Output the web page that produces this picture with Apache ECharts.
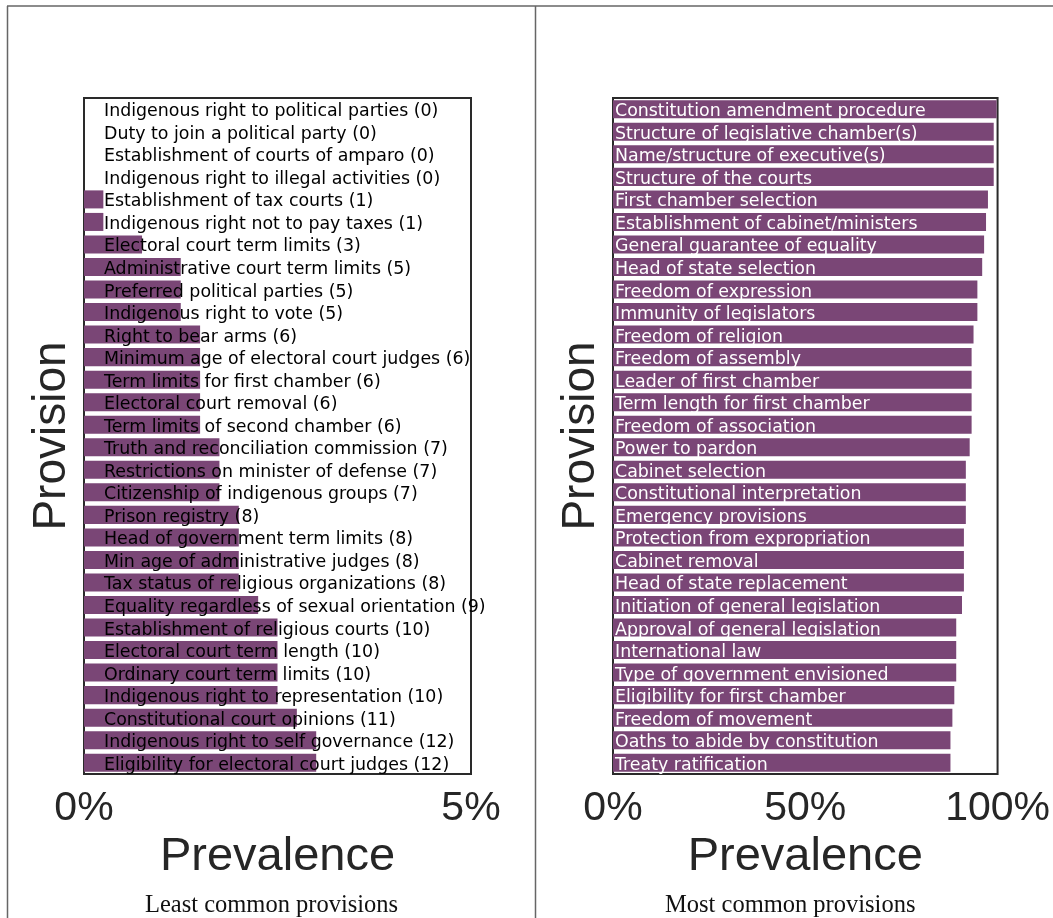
<!DOCTYPE html>
<html>
<head>
<meta charset="utf-8">
<script src="https://cdn.jsdelivr.net/npm/echarts@6/dist/echarts.min.js"></script>
<style>
  html, body { margin: 0; padding: 0; background: #fff; }
  #chart { width: 1053px; height: 918px; }
</style>
</head>
<body>
<div id="chart"></div>
<script>
// Least common provisions: name and number of constitutions (out of TOTAL)
const leastNames = [
  "Indigenous right to political parties",
  "Duty to join a political party",
  "Establishment of courts of amparo",
  "Indigenous right to illegal activities",
  "Establishment of tax courts",
  "Indigenous right not to pay taxes",
  "Electoral court term limits",
  "Administrative court term limits",
  "Preferred political parties",
  "Indigenous right to vote",
  "Right to bear arms",
  "Minimum age of electoral court judges",
  "Term limits for first chamber",
  "Electoral court removal",
  "Term limits of second chamber",
  "Truth and reconciliation commission",
  "Restrictions on minister of defense",
  "Citizenship of indigenous groups",
  "Prison registry",
  "Head of government term limits",
  "Min age of administrative judges",
  "Tax status of religious organizations",
  "Equality regardless of sexual orientation",
  "Establishment of religious courts",
  "Electoral court term length",
  "Ordinary court term limits",
  "Indigenous right to representation",
  "Constitutional court opinions",
  "Indigenous right to self governance",
  "Eligibility for electoral court judges"
];
const leastCounts = [0, 0, 0, 0, 1, 1, 3, 5, 5, 5, 6, 6, 6, 6, 6, 7, 7, 7, 8, 8, 8, 8, 9, 10, 10, 10, 10, 11, 12, 12];
const TOTAL = 400;            // constitutions in the corpus
const leastMaxCount = 20;     // 5% of TOTAL
const leastTicks = [0, 20];

// Most common provisions: name and prevalence in percent
const mostNames = [
  "Constitution amendment procedure",
  "Structure of legislative chamber(s)",
  "Name/structure of executive(s)",
  "Structure of the courts",
  "First chamber selection",
  "Establishment of cabinet/ministers",
  "General guarantee of equality",
  "Head of state selection",
  "Freedom of expression",
  "Immunity of legislators",
  "Freedom of religion",
  "Freedom of assembly",
  "Leader of first chamber",
  "Term length for first chamber",
  "Freedom of association",
  "Power to pardon",
  "Cabinet selection",
  "Constitutional interpretation",
  "Emergency provisions",
  "Protection from expropriation",
  "Cabinet removal",
  "Head of state replacement",
  "Initiation of general legislation",
  "Approval of general legislation",
  "International law",
  "Type of government envisioned",
  "Eligibility for first chamber",
  "Freedom of movement",
  "Oaths to abide by constitution",
  "Treaty ratification"
];
const mostPct = [99.75, 99.0, 99.0, 99.0, 97.5, 97.0, 96.5, 96.0, 94.75, 94.75,
                 93.75, 93.25, 93.25, 93.25, 93.25, 92.75, 91.75, 91.75, 91.75, 91.25,
                 91.25, 91.25, 90.75, 89.25, 89.25, 89.25, 88.75, 88.25, 87.75, 87.75];

const BAR = '#7a4676';
const INK = '#262626';
const SANS = '"Liberation Sans", Arial, sans-serif';
const LABEL_FONT = '"DejaVu Sans", sans-serif';
const SERIF = '"Liberation Serif", "DejaVu Serif", serif';

const leastCats = leastNames.map((n, i) => `${n} (${leastCounts[i]})`);

const chart = echarts.init(document.getElementById('chart'), null, { renderer: 'canvas' });

const valueAxisCommon = {
  type: 'value',
  axisLine: { show: false },
  axisTick: { show: false },
  splitLine: { show: false },
  name: 'Prevalence',
  nameLocation: 'middle',
  nameGap: 57,
  nameTextStyle: { fontSize: 47, color: INK, fontFamily: SANS },
  axisLabel: { fontSize: 41, color: INK, fontFamily: SANS, margin: 14 }
};

const catAxisCommon = {
  type: 'category',
  inverse: true,
  z: 10,
  axisLine: { show: false },
  axisTick: { show: false },
  splitLine: { show: false },
  name: 'Provision',
  nameLocation: 'middle',
  nameRotate: 90,
  nameGap: 9,
  nameTextStyle: { fontSize: 46, color: INK, fontFamily: SANS }
};

// provision names are written inside the plot, over the bars;
// a short top-aligned line box sits the text slightly below the row centre
const rowLabel = { inside: true, interval: 0, fontSize: 17.4, fontFamily: LABEL_FONT, verticalAlign: 'top', lineHeight: 5 };

chart.setOption({
  animation: false,
  backgroundColor: '#fff',
  grid: [
    { left: 84, top: 98, width: 387, height: 676, show: true, borderColor: '#2a2a2a', borderWidth: 2, backgroundColor: 'transparent', containLabel: false },
    { left: 613, top: 98, width: 387, height: 676, show: true, borderColor: '#2a2a2a', borderWidth: 2, backgroundColor: 'transparent', containLabel: false }
  ],
  xAxis: [
    Object.assign({}, valueAxisCommon, {
      gridIndex: 0, min: 0, max: leastMaxCount, interval: leastTicks[1] - leastTicks[0],
      axisLabel: Object.assign({}, valueAxisCommon.axisLabel, {
        formatter: v => (v / TOTAL * 100) + '%'
      })
    }),
    Object.assign({}, valueAxisCommon, {
      gridIndex: 1, min: 0, max: 100, interval: 50,
      axisLabel: Object.assign({}, valueAxisCommon.axisLabel, { formatter: '{value}%' })
    })
  ],
  yAxis: [
    Object.assign({}, catAxisCommon, {
      gridIndex: 0, data: leastCats,
      axisLabel: Object.assign({}, rowLabel, { margin: 20, color: '#000' })
    }),
    Object.assign({}, catAxisCommon, {
      gridIndex: 1, data: mostNames,
      axisLabel: Object.assign({}, rowLabel, { margin: 2, color: '#fff' })
    })
  ],
  series: [
    {
      type: 'bar', xAxisIndex: 0, yAxisIndex: 0, data: leastCounts,
      barCategoryGap: '20%',
      itemStyle: { color: BAR, borderWidth: 0 }
    },
    {
      type: 'bar', xAxisIndex: 1, yAxisIndex: 1, data: mostPct,
      barCategoryGap: '20%',
      itemStyle: { color: BAR, borderWidth: 0 }
    }
  ],
  graphic: [
    // subfigure frame
    { type: 'line', shape: { x1: 7, y1: 6, x2: 1053, y2: 6 }, style: { stroke: '#666', lineWidth: 1.5 }, silent: true },
    { type: 'line', shape: { x1: 7.5, y1: 6, x2: 7.5, y2: 918 }, style: { stroke: '#666', lineWidth: 1.5 }, silent: true },
    { type: 'line', shape: { x1: 535.5, y1: 6, x2: 535.5, y2: 918 }, style: { stroke: '#666', lineWidth: 1.5 }, silent: true },
    // captions
    { type: 'text', left: 145, top: 893, style: { text: 'Least common provisions', font: '24.5px ' + SERIF, fill: '#111' }, silent: true },
    { type: 'text', left: 665, top: 893, style: { text: 'Most common provisions', font: '24.5px ' + SERIF, fill: '#111' }, silent: true }
  ]
});
</script>
</body>
</html>
